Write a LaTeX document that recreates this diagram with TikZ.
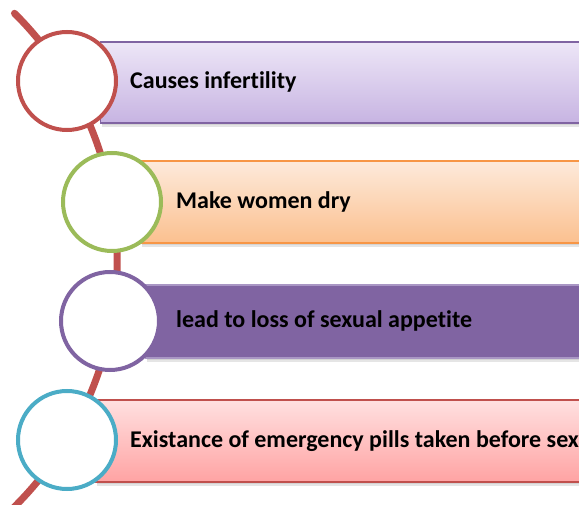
\documentclass[tikz,border=0pt]{standalone}
\usepackage{fontspec}
\setmainfont{Carlito}[Ligatures=NoCommon, BoldFont={Carlito Bold}]
\definecolor{redline}{HTML}{C0504D}
\definecolor{cgreen}{HTML}{9BBB59}
\definecolor{cpurple}{HTML}{8064A2}
\definecolor{cteal}{HTML}{4BACC6}
\definecolor{orangeb}{HTML}{F79646}
\definecolor{lavb}{HTML}{A996C4}
\begin{document}
\begin{tikzpicture}[x=1pt,y=1pt,
  barbox/.style={rectangle, anchor=west, minimum width=520pt, line width=1.4pt, inner sep=0pt},
  ring/.style={circle, draw, fill=white, line width=4pt, minimum size=98pt, inner sep=0pt},
  lbl/.style={anchor=west, font=\bfseries\fontsize{24}{27}\selectfont, text=black, inner sep=0pt},
]
\useasboundingbox (0,0) rectangle (579,-505);
\clip (0,0) rectangle (579,-505);
% shadows
\foreach \x/\yt/\yb in {100/42/123, 140/161/243, 145/285/358, 95/400/482}{
  \fill[black,opacity=0.10] (\x+2,-\yt-4) rectangle (600,-\yb-4);
  \fill[black,opacity=0.08] (\x+2,-\yt-2) rectangle (600,-\yb-2);
}
% bars
\node[barbox, minimum height=81pt, draw=cpurple, top color={rgb,255:red,237;green,230;blue,247}, bottom color={rgb,255:red,199;green,180;blue,226}] (bar1) at (100,-82.5) {};
\node[barbox, minimum height=82pt, draw=orangeb, top color={rgb,255:red,253;green,234;blue,219}, bottom color={rgb,255:red,251;green,192;blue,143}] (bar2) at (140,-202) {};
\node[barbox, minimum height=73pt, draw=lavb, fill=cpurple] (bar3) at (145,-321.5) {};
\node[barbox, minimum height=82pt, draw=redline, top color={rgb,255:red,255;green,224;blue,224}, bottom color={rgb,255:red,255;green,163;blue,163}] (bar4) at (95,-441) {};
% curved spine
\coordinate (ctr) at (-230.5,-260);
\draw[redline, line width=7pt, line cap=round] (ctr) ++(45.2:347.7) arc[start angle=45.2, end angle=-50, radius=347.7];
% circles
\node[ring, draw=redline] (c1) at (67,-81) {};
\node[ring, draw=cgreen] (c2) at (112,-202) {};
\node[ring, draw=cpurple] (c3) at (110,-321) {};
\node[ring, draw=cteal] (c4) at (67,-440) {};
% labels
\node[lbl] (t1) at (130,-82) {Causes infertility};
\node[lbl] (t2) at (176,-202) {Make women dry};
\node[lbl] (t3) at (176,-321) {lead to loss of sexual appetite};
\node[lbl] (t4) at (130,-441) {Existance of emergency pills taken before sex};
\end{tikzpicture}
\end{document}
